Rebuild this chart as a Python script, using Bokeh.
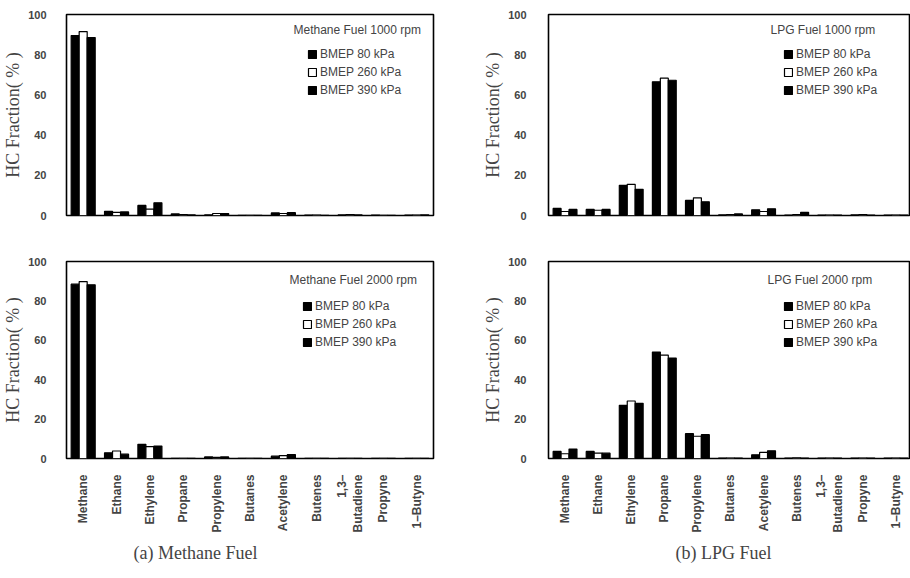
import numpy as np
from bokeh.plotting import figure
from bokeh.models import (Range1d, FixedTicker, Legend, LegendItem, Label, Title,
                          ColumnDataSource)
from bokeh.transform import dodge
from bokeh.layouts import row, column
from bokeh.embed import file_html
from bokeh.resources import INLINE

# ---------------- data ----------------
categories = ["Methane", "Ethane", "Ethylene", "Propane", "Propylene", "Butanes",
              "Acetylene", "Butenes", "1,3\u2013\nButadiene", "Propyne", "1\u2013Butyne"]
series_labels = ["BMEP 80 kPa", "BMEP 260 kPa", "BMEP 390 kPa"]

methane_1000_bmep80 = [89.5, 2.1, 5.0, 0.8, 0.3, 0.1, 1.3, 0.2, 0.3, 0.2, 0.2]
methane_1000_bmep260 = [91.5, 1.6, 3.2, 0.5, 1.0, 0.1, 1.0, 0.2, 0.5, 0.1, 0.2]
methane_1000_bmep390 = [88.5, 1.8, 6.3, 0.3, 1.0, 0.1, 1.4, 0.1, 0.3, 0.1, 0.3]

lpg_1000_bmep80 = [3.5, 3.0, 15.0, 66.5, 7.5, 0.3, 2.8, 0.2, 0.2, 0.3, 0.2]
lpg_1000_bmep260 = [2.0, 2.6, 15.5, 68.3, 8.8, 0.5, 2.0, 0.4, 0.2, 0.5, 0.2]
lpg_1000_bmep390 = [3.0, 3.0, 13.0, 67.3, 6.8, 0.8, 3.3, 1.6, 0.2, 0.2, 0.2]

methane_2000_bmep80 = [88.5, 2.9, 7.2, 0.1, 0.8, 0.1, 1.2, 0.1, 0.1, 0.1, 0.1]
methane_2000_bmep260 = [89.8, 3.8, 6.0, 0.1, 0.6, 0.1, 1.5, 0.1, 0.1, 0.1, 0.1]
methane_2000_bmep390 = [88.2, 2.2, 6.3, 0.1, 0.8, 0.1, 2.0, 0.1, 0.1, 0.1, 0.1]

lpg_2000_bmep80 = [3.6, 3.6, 27.0, 54.0, 12.6, 0.2, 1.9, 0.2, 0.2, 0.2, 0.2]
lpg_2000_bmep260 = [2.4, 2.7, 29.2, 52.5, 11.3, 0.2, 3.1, 0.3, 0.2, 0.2, 0.2]
lpg_2000_bmep390 = [4.8, 2.7, 28.0, 51.0, 12.1, 0.2, 3.9, 0.2, 0.2, 0.2, 0.2]

panel_titles = ["Methane Fuel 1000 rpm", "LPG Fuel 1000 rpm",
                "Methane Fuel 2000 rpm", "LPG Fuel 2000 rpm"]
captions = ["(a) Methane Fuel", "(b) LPG Fuel"]
y_ticks = [0, 20, 40, 60, 80, 100]
y_axis_label = "HC Fraction( % )"

# ---------------- styling ----------------
bar_colors = ["black", "white", "black"]
bar_offsets = [-0.24, 0.0, 0.24]
bar_width = 0.24
SANS = "Liberation Sans"
SERIF = "Liberation Serif"

centers = np.arange(len(categories)) + 0.5


def make_panel(vals, name, width, height, mb_left, mb_right, mb_top, mb_bottom,
               x_end, show_x, legend_loc, title_loc, ytick_standoff,
               caption=None, caption_offset=0):
    p = figure(width=width, height=height, x_range=Range1d(0, x_end),
               y_range=Range1d(0, 100), output_backend="svg",
               toolbar_location=None, min_border_left=mb_left,
               min_border_right=mb_right, min_border_top=mb_top,
               min_border_bottom=mb_bottom)
    p.grid.visible = False
    p.outline_line_color = "black"
    p.outline_line_width = 1.6
    p.outline_line_alpha = 1.0

    src = ColumnDataSource(dict(x=centers, v0=vals[0], v1=vals[1], v2=vals[2]))
    rends = []
    for k in range(3):
        r = p.vbar(x=dodge("x", bar_offsets[k]), top=f"v{k}", width=bar_width,
                   source=src, fill_color=bar_colors[k], line_color="black",
                   line_width=1.2)
        rends.append(r)

    # y axis
    ya = p.yaxis[0]
    ya.ticker = FixedTicker(ticks=y_ticks)
    ya.major_tick_line_color = None
    ya.minor_tick_line_color = None
    ya.axis_line_color = None
    ya.major_label_text_font = SANS
    ya.major_label_text_font_size = "11px"
    ya.major_label_text_font_style = "bold"
    ya.major_label_standoff = ytick_standoff
    ya.axis_label = y_axis_label
    ya.axis_label_text_font = SERIF
    ya.axis_label_text_font_size = "18px"
    ya.axis_label_text_font_style = "normal"
    ya.axis_label_standoff = 2

    xa = p.xaxis[0]
    if show_x:
        xa.ticker = FixedTicker(ticks=list(centers))
        xa.major_label_overrides = {float(c): lab for c, lab in zip(centers, categories)}
        xa.major_label_orientation = np.pi / 2
        xa.major_tick_line_color = None
        xa.minor_tick_line_color = None
        xa.axis_line_color = None
        xa.major_label_text_font = SANS
        xa.major_label_text_font_size = "12px"
        xa.major_label_text_font_style = "bold"
        xa.major_label_standoff = 10
    else:
        xa.visible = False

    legend = Legend(items=[LegendItem(label=series_labels[k], renderers=[rends[k]])
                           for k in range(3)],
                    location=legend_loc, border_line_color=None,
                    background_fill_alpha=0, padding=4, spacing=2,
                    label_height=16, glyph_height=10, glyph_width=10,
                    label_standoff=3, label_text_font=SANS,
                    label_text_font_size="12px", margin=0)
    p.add_layout(legend)

    p.add_layout(Label(x=title_loc[0], y=title_loc[1], x_units="screen",
                       y_units="screen", text=name, text_font=SANS,
                       text_font_size="12px", text_baseline="middle",
                       text_align="left"))

    if caption is not None:
        p.add_layout(Title(text=caption, align="left", offset=caption_offset,
                           text_font=SERIF, text_font_size="18px",
                           text_font_style="normal", standoff=10), "below")
    return p


methane_1000 = [methane_1000_bmep80, methane_1000_bmep260, methane_1000_bmep390]
lpg_1000 = [lpg_1000_bmep80, lpg_1000_bmep260, lpg_1000_bmep390]
methane_2000 = [methane_2000_bmep80, methane_2000_bmep260, methane_2000_bmep390]
lpg_2000 = [lpg_2000_bmep80, lpg_2000_bmep260, lpg_2000_bmep390]

tl = make_panel(methane_1000, panel_titles[0], 455, 240, 61, 22, 14, 25, 11.0,
                False, (241, 117), (227, 186), 14)
tr = make_panel(lpg_1000, panel_titles[1], 455, 240, 93, 0, 14, 25, 10.94,
                False, (235, 117), (222, 186), 16)
bl = make_panel(methane_2000, panel_titles[2], 455, 338, 61, 22, 21, 120, 11.0,
                True, (236, 108), (223, 179), 14, captions[0], 67)
br = make_panel(lpg_2000, panel_titles[3], 455, 338, 93, 0, 21, 120, 10.94,
                True, (235, 108), (219, 179), 16, captions[1], 127)

layout = row(column(tl, bl), column(tr, br))
open("out.html", "w").write(file_html(layout, INLINE))
